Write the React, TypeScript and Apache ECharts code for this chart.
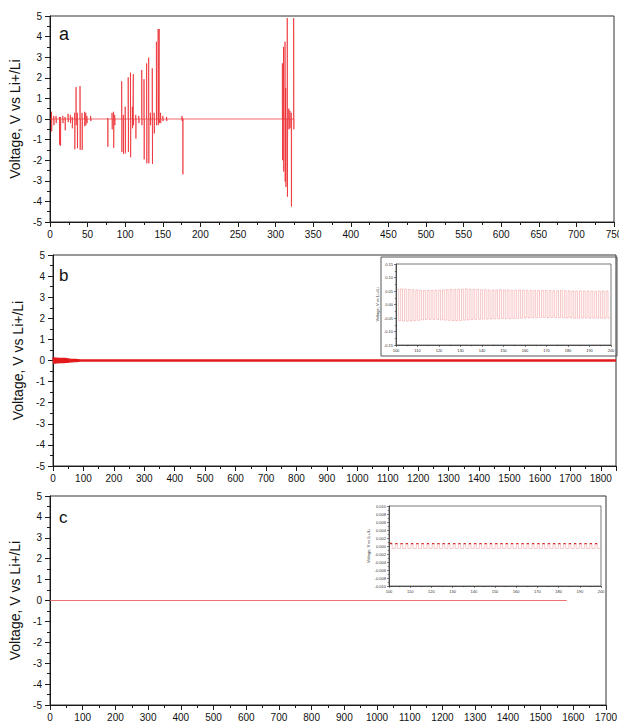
import React, { useEffect, useRef } from "react";
import * as echarts from "echarts";

const FONT = "'Liberation Sans', Arial, Helvetica, sans-serif";
const INK = "#1a1a1a";

// ---- Panel (a): baseline at 0 V with discrete voltage spikes ----
const spikeTimes = [
  2, 5, 8, 12.5, 13.8, 17, 20, 24, 27, 29.5, 32.8, 34.6, 36.3, 39.9, 42.6, 46, 47.5, 49, 54,
  76.7, 82.5, 84.5, 86, 95.3, 97.5, 100, 104, 107, 109.5, 110.8, 114, 118, 122, 125, 128.5,
  131.2, 133.5, 136, 138.5, 141.5, 143.8, 145.2, 147, 150, 155, 175.5, 176.5,
  309, 310.5, 312.5, 313.5, 315.5, 317.5, 319, 320.8, 324,
];
const spikeHigh = [
  0.35, 0.15, 0.15, 0.1, 0.1, 0.15, 0.1, 0.25, 0.2, 0.1, 0.3, 1.55, 0.3, 1.6, 0.3, 0.35, 0.3, 0.15, 0.15,
  0.05, 0.3, 0.35, 0.2, 1.83, 0.2, 0.6, 2.02, 2.25, 0.6, 2.18, 0.2, 0.15, 2.38, 1.93, 2.7,
  2.98, 0.3, 2.46, 0.3, 3.75, 4.37, 4.37, 0.3, 0.15, 0.1, 0.15, 0.05,
  2.7, 3.5, 3.75, 1.5, 4.9, 0.5, 0.4, 0.3, 4.9,
];
const spikeLow = [
  -0.6, -0.3, -0.2, -1.25, -1.3, -0.2, -0.55, -0.15, -0.2, -0.45, -1.47, -0.3, -1.42, -1.5, -1.5, -0.35, -0.3, -0.2, -0.1,
  -1.35, -0.5, -1.4, -0.3, -1.6, -1.7, -1.67, -1.6, -1.86, -0.45, -0.3, -0.95, -0.2, -0.3, -1.96, -2.15,
  -2.15, -0.3, -2.18, -0.7, -0.3, -0.3, -0.2, -0.2, -0.1, -0.1, -0.1, -2.69,
  -2.0, -2.55, -3.04, -3.3, -3.77, -0.5, -0.45, -4.25, -0.5,
];
const traceAEnd = 325;

// ---- Panel (b): early oscillation envelope, then a flat trace ----
const bandTimes = [0, 5, 10, 15, 20, 25, 30, 35, 40, 45, 50, 55, 60, 65, 70, 75, 80, 85];
const bandHigh = [0.14, 0.15, 0.14, 0.14, 0.13, 0.13, 0.12, 0.12, 0.12, 0.11, 0.1, 0.09, 0.08, 0.08, 0.07, 0.07, 0.06, 0.04];
const bandLow = [-0.15, -0.15, -0.14, -0.14, -0.13, -0.13, -0.12, -0.12, -0.11, -0.11, -0.1, -0.09, -0.09, -0.08, -0.07, -0.07, -0.06, -0.04];
const traceBSpan = [0, 1850];

// Inset of (b): cycle-by-cycle plateau voltages, 100-200 h
const insetBStart = 100.4;
const insetBPeriod = 1.77;
const insetBHigh = [
  0.057, 0.058, 0.057, 0.056, 0.055, 0.054, 0.053, 0.052, 0.052, 0.053, 0.053, 0.054, 0.054, 0.055,
  0.056, 0.056, 0.057, 0.057, 0.058, 0.057, 0.057, 0.056, 0.055, 0.055, 0.054, 0.054, 0.054, 0.055,
  0.054, 0.054, 0.053, 0.053, 0.054, 0.053, 0.053, 0.053, 0.052, 0.052, 0.053, 0.052, 0.052, 0.051,
  0.051, 0.052, 0.051, 0.051, 0.05, 0.05, 0.051, 0.05, 0.05, 0.05, 0.049, 0.05, 0.05, 0.05,
];
const insetBLow = [
  -0.06, -0.061, -0.062, -0.061, -0.06, -0.059, -0.057, -0.056, -0.055, -0.055, -0.056, -0.057, -0.058, -0.059,
  -0.06, -0.06, -0.059, -0.058, -0.057, -0.056, -0.055, -0.055, -0.054, -0.054, -0.054, -0.053, -0.053, -0.052,
  -0.052, -0.053, -0.052, -0.051, -0.051, -0.05, -0.05, -0.049, -0.049, -0.048, -0.048, -0.049, -0.048, -0.048,
  -0.049, -0.049, -0.05, -0.05, -0.051, -0.051, -0.05, -0.05, -0.051, -0.051, -0.05, -0.051, -0.051, -0.05,
];

// ---- Panel (c): flat trace ----
const traceCSpan = [0, 1580];

// Inset of (c): cycle-by-cycle plateau voltages, 100-200 h
const insetCStart = 100.5;
const insetCPeriod = 2.48;
const insetCHigh = [
  0.00062, 0.0006, 0.00061, 0.0006, 0.00058, 0.0006, 0.00059, 0.0006, 0.00061, 0.0006,
  0.00059, 0.0006, 0.0006, 0.00058, 0.0006, 0.00059, 0.0006, 0.0006, 0.00059, 0.0006,
  0.00058, 0.0006, 0.00059, 0.0006, 0.0006, 0.00058, 0.00059, 0.0006, 0.00058, 0.00059,
  0.0006, 0.00058, 0.00059, 0.0006, 0.00058, 0.00059, 0.00058, 0.0006, 0.00059, 0.00058,
];
const insetCLow = [
  -0.00062, -0.0006, -0.00061, -0.0006, -0.00062, -0.0006, -0.00061, -0.0006, -0.0006, -0.00061,
  -0.0006, -0.00062, -0.0006, -0.00061, -0.0006, -0.0006, -0.00061, -0.0006, -0.00062, -0.0006,
  -0.00061, -0.0006, -0.0006, -0.00061, -0.0006, -0.00062, -0.0006, -0.00061, -0.0006, -0.0006,
  -0.00061, -0.0006, -0.00062, -0.0006, -0.00061, -0.0006, -0.0006, -0.00061, -0.0006, -0.0006,
];

const Y_NAME = "Voltage, V vs Li+/Li";

function buildSpikes(): number[][] {
  const pts: number[][] = [[0, 0]];
  spikeTimes.forEach((t, i) => {
    pts.push([t, 0], [t, spikeHigh[i]], [t + 0.25, spikeLow[i]], [t + 0.5, 0]);
  });
  pts.push([traceAEnd, 0]);
  return pts;
}

function buildBand(): number[][] {
  const pts: number[][] = [];
  bandTimes.forEach((t, i) => {
    pts.push([t, bandHigh[i]], [t + 2.5, bandLow[i]]);
  });
  return pts;
}

// square wave: high plateau, step down, low plateau, step up
function buildCycles(start: number, period: number, highs: number[], lows: number[], duty: number) {
  const wave: (number[] | string)[] = [];
  const tops: (number[] | string)[] = [];
  highs.forEach((h, i) => {
    const t = start + i * period;
    const d = t + period * duty;
    wave.push([t, h], [d, h], [d, lows[i]], [t + period, lows[i]]);
    tops.push([t, h], [d, h], "-");
  });
  return { wave, tops };
}

function mainXAxis(gridIndex: number, max: number, interval: number) {
  return {
    type: "value",
    gridIndex,
    min: 0,
    max,
    interval,
    axisLine: { show: true, onZero: false, lineStyle: { color: INK, width: 1 } },
    axisTick: { show: true, length: 5, lineStyle: { color: INK, width: 1 } },
    minorTick: { show: true, splitNumber: 2, length: 3, lineStyle: { color: INK, width: 1 } },
    axisLabel: {
      show: true,
      fontSize: 10,
      color: "#111",
      fontFamily: FONT,
      margin: 7,
      formatter: (v: number) => (Math.round(v) % interval === 0 ? String(Math.round(v)) : ""),
    },
    splitLine: { show: false },
    minorSplitLine: { show: false },
  };
}

function mainYAxis(gridIndex: number) {
  return {
    type: "value",
    gridIndex,
    min: -5,
    max: 5,
    interval: 1,
    name: Y_NAME,
    nameLocation: "middle",
    nameGap: 24,
    nameRotate: 90,
    nameTextStyle: { fontSize: 14, fontFamily: FONT, color: "#111" },
    axisLine: { show: true, onZero: false, lineStyle: { color: INK, width: 1 } },
    axisTick: { show: true, length: 5, lineStyle: { color: INK, width: 1 } },
    minorTick: { show: true, splitNumber: 2, length: 3, lineStyle: { color: INK, width: 1 } },
    axisLabel: { show: true, fontSize: 10, color: "#111", fontFamily: FONT, margin: 8 },
    splitLine: { show: false },
    minorSplitLine: { show: false },
  };
}

function insetXAxis(gridIndex: number) {
  return {
    type: "value",
    gridIndex,
    min: 100,
    max: 200,
    interval: 10,
    axisLine: { show: true, onZero: false, lineStyle: { color: "#333", width: 0.8 } },
    axisTick: { show: true, length: 2, lineStyle: { color: "#333", width: 0.6 } },
    minorTick: { show: true, splitNumber: 2, length: 1.2, lineStyle: { color: "#333", width: 0.6 } },
    axisLabel: { show: true, fontSize: 4, color: "#333", fontFamily: FONT, margin: 3 },
    splitLine: { show: false },
    minorSplitLine: { show: false },
  };
}

function insetYAxis(gridIndex: number, min: number, max: number, interval: number, digits: number, gap: number) {
  return {
    type: "value",
    gridIndex,
    min,
    max,
    interval,
    name: Y_NAME,
    nameLocation: "middle",
    nameGap: gap,
    nameRotate: 90,
    nameTextStyle: { fontSize: 4, fontFamily: FONT, color: "#333" },
    axisLine: { show: true, onZero: false, lineStyle: { color: "#333", width: 0.8 } },
    axisTick: { show: true, length: 2, lineStyle: { color: "#333", width: 0.6 } },
    minorTick: { show: true, splitNumber: 2, length: 1.2, lineStyle: { color: "#333", width: 0.6 } },
    axisLabel: {
      show: true,
      fontSize: 4,
      color: "#333",
      fontFamily: FONT,
      margin: 3,
      formatter: (v: number) => v.toFixed(digits),
    },
    splitLine: { show: false },
    minorSplitLine: { show: false },
  };
}

const gridBase = { show: true, borderColor: "#333", borderWidth: 1, backgroundColor: "transparent", containLabel: false, outerBoundsMode: "none" };

export default function App() {
  const ref = useRef<HTMLDivElement>(null);

  useEffect(() => {
    if (!ref.current) return;
    const chart = echarts.init(ref.current, undefined, { renderer: "svg" });
    const cycB = buildCycles(insetBStart, insetBPeriod, insetBHigh, insetBLow, 0.48);
    const cycC = buildCycles(insetCStart, insetCPeriod, insetCHigh, insetCLow, 0.4);

    chart.setOption({
      animation: false,
      backgroundColor: "#ffffff",
      grid: [
        { ...gridBase, left: 50, top: 16, width: 564, height: 206 },
        { ...gridBase, left: 53, top: 255, width: 563, height: 211 },
        { ...gridBase, left: 50, top: 496, width: 556, height: 209 },
        { ...gridBase, borderColor: "#555", borderWidth: 0.8, left: 396, top: 264, width: 215, height: 81 },
        { ...gridBase, borderColor: "#555", borderWidth: 0.8, left: 389, top: 506, width: 212, height: 80 },
      ],
      xAxis: [
        mainXAxis(0, 750, 50),
        mainXAxis(1, 1850, 100),
        mainXAxis(2, 1700, 100),
        insetXAxis(3),
        insetXAxis(4),
      ],
      yAxis: [
        mainYAxis(0),
        mainYAxis(1),
        mainYAxis(2),
        insetYAxis(3, -0.15, 0.15, 0.05, 2, 12),
        insetYAxis(4, -0.01, 0.01, 0.002, 3, 14),
      ],
      series: [
        {
          type: "line",
          xAxisIndex: 0,
          yAxisIndex: 0,
          data: buildSpikes(),
          showSymbol: false,
          symbol: "none",
          lineStyle: { color: "rgba(236,34,40,0.68)", width: 1 },
        },
        {
          type: "line",
          xAxisIndex: 1,
          yAxisIndex: 1,
          data: buildBand(),
          symbol: "none",
          lineStyle: { color: "#e31a1c", width: 1.6 },
        },
        {
          type: "line",
          xAxisIndex: 1,
          yAxisIndex: 1,
          data: [
            [traceBSpan[0], 0],
            [traceBSpan[1], 0],
          ],
          symbol: "none",
          lineStyle: { color: "#e31a1c", width: 2.5 },
        },
        {
          type: "line",
          xAxisIndex: 2,
          yAxisIndex: 2,
          data: [
            [traceCSpan[0], 0],
            [traceCSpan[1], 0],
          ],
          symbol: "none",
          lineStyle: { color: "rgba(232,90,90,0.85)", width: 1 },
        },
        {
          type: "line",
          xAxisIndex: 3,
          yAxisIndex: 3,
          data: cycB.wave,
          symbol: "none",
          lineStyle: { color: "rgba(232,80,80,0.45)", width: 0.7 },
        },
        {
          type: "line",
          xAxisIndex: 4,
          yAxisIndex: 4,
          data: cycC.wave,
          symbol: "none",
          lineStyle: { color: "rgba(232,100,100,0.5)", width: 0.7 },
        },
        {
          type: "line",
          xAxisIndex: 4,
          yAxisIndex: 4,
          data: cycC.tops,
          connectNulls: false,
          symbol: "none",
          lineStyle: { color: "#d42424", width: 1.3 },
        },
      ],
      graphic: [
        { type: "text", left: 59, top: 25, style: { text: "a", fontSize: 18, fontFamily: FONT, fill: "#111" } },
        { type: "text", left: 59, top: 267, style: { text: "b", fontSize: 17, fontFamily: FONT, fill: "#111" } },
        { type: "text", left: 59, top: 509, style: { text: "c", fontSize: 17, fontFamily: FONT, fill: "#111" } },
        {
          type: "rect",
          shape: { x: 381, y: 257, width: 236, height: 99 },
          style: { fill: "none", stroke: "#555", lineWidth: 1 },
          silent: true,
        },
      ],
    });
    return () => chart.dispose();
  }, []);

  return (
    <div
      ref={ref}
      style={{ position: "absolute", left: 0, top: 0, width: 619, height: 722, background: "#fff" }}
    />
  );
}
